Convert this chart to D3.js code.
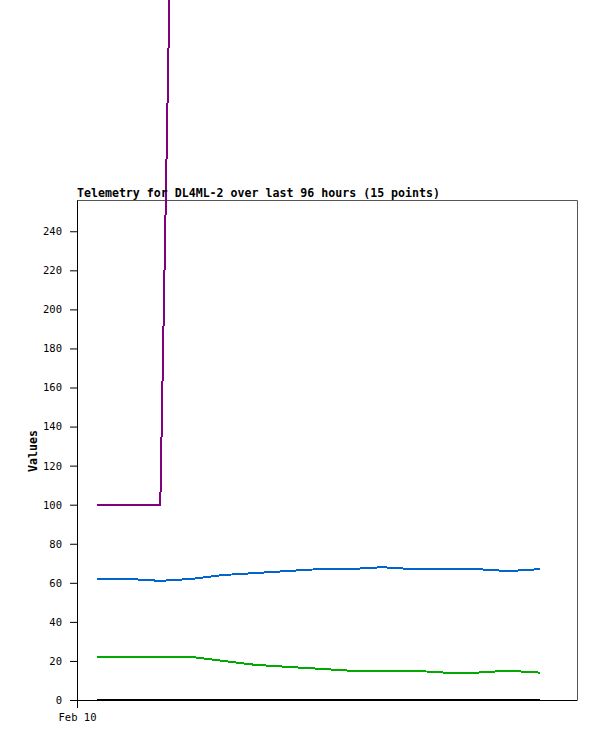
<!DOCTYPE html>
<html>
<head>
<meta charset="utf-8">
<script src="https://cdn.jsdelivr.net/npm/d3@7"></script>
<style>
  html, body { margin: 0; padding: 0; background: #fff; }
  svg { display: block; }
</style>
</head>
<body>
<div id="chart"></div>
<script>
// ---- data ----
const title = "Telemetry for DL4ML-2 over last 96 hours (15 points)";
const yLabel = "Values";
const times = [
  "2024-02-10T04:20Z", "2024-02-10T11:11Z", "2024-02-10T18:03Z",
  "2024-02-11T00:54Z", "2024-02-11T07:45Z", "2024-02-11T14:37Z",
  "2024-02-11T21:28Z", "2024-02-12T04:20Z", "2024-02-12T11:11Z",
  "2024-02-12T18:03Z", "2024-02-13T00:54Z", "2024-02-13T07:45Z",
  "2024-02-13T14:37Z", "2024-02-13T21:28Z", "2024-02-14T04:20Z"
];
const purpleValues = [100, 100, 100, 1000, 1000, 1000, 1000, 1000, 1000, 1000, 1000, 1000, 1000, 1000, 1000];
const blueValues   = [62, 62, 61, 62, 64, 65, 66, 67, 67, 68, 67, 67, 67, 66, 67];
const greenValues  = [22, 22, 22, 22, 20, 18, 17, 16, 15, 15, 15, 14, 14, 15, 14];
const blackValues  = [0, 0, 0, 0, 0, 0, 0, 0, 0, 0, 0, 0, 0, 0, 0];
const yTicks = [0, 20, 40, 60, 80, 100, 120, 140, 160, 180, 200, 220, 240];
const xDomain = ["2024-02-10T00:00Z", "2024-02-14T12:21Z"];
const xTicks = ["2024-02-10T00:00Z"];
const yMax = 256;

const series = [
  { name: "purple", color: "#800080", values: purpleValues },
  { name: "blue",   color: "#0066cc", values: blueValues },
  { name: "green",  color: "#00aa00", values: greenValues },
  { name: "black",  color: "#000000", values: blackValues }
];

// ---- layout ----
const W = 597, H = 741;
const m = { left: 77, top: 200, right: 20, bottom: 41 };
const pw = W - m.left - m.right;   // 500
const ph = H - m.top - m.bottom;   // 500

const svg = d3.select("#chart").append("svg")
  .attr("width", W).attr("height", H);

const parse = s => new Date(s);
const x = d3.scaleUtc().domain(xDomain.map(parse)).range([m.left, m.left + pw]);
const y = d3.scaleLinear().domain([0, yMax]).range([m.top + ph, m.top]);

const monoFont = "'DejaVu Sans Mono', monospace";

// frame (top and right)
svg.append("path")
  .attr("d", `M${m.left},${m.top + 0.5}H${m.left + pw + 0.5}V${m.top + ph}`)
  .attr("fill", "none").attr("stroke", "#555").attr("stroke-width", 1);

// lines
const line = d3.line()
  .x((d, i) => x(parse(times[i])))
  .y(d => y(d));

series.forEach(s => {
  svg.append("path")
    .datum(s.values)
    .attr("d", line)
    .attr("fill", "none")
    .attr("stroke", s.color)
    .attr("stroke-width", 2)
    .attr("shape-rendering", "crispEdges");
});

// y axis
const yAxis = svg.append("g")
  .attr("transform", `translate(${m.left},0)`)
  .call(d3.axisLeft(y).tickValues(yTicks).tickSize(7).tickSizeOuter(0).tickPadding(8));
yAxis.selectAll("text").attr("font-family", monoFont).attr("font-size", "10.5px").attr("fill", "#000");
yAxis.selectAll("line, path").attr("stroke", "#000");

// x axis
const xAxis = svg.append("g")
  .attr("transform", `translate(0,${m.top + ph})`)
  .call(d3.axisBottom(x).tickValues(xTicks.map(parse)).tickSize(8).tickSizeOuter(0).tickPadding(6)
    .tickFormat(d3.utcFormat("%b %d")));
xAxis.selectAll("text").attr("font-family", monoFont).attr("font-size", "10.5px").attr("fill", "#000");
xAxis.selectAll("line, path").attr("stroke", "#000");

// title
svg.append("text")
  .attr("x", m.left).attr("y", 197)
  .attr("font-family", monoFont).attr("font-weight", "bold").attr("font-size", "11.6px")
  .attr("fill", "#000")
  .text(title);

// y label
svg.append("text")
  .attr("transform", "translate(37,451) rotate(-90)")
  .attr("text-anchor", "middle")
  .attr("font-family", monoFont).attr("font-weight", "bold").attr("font-size", "11.6px")
  .attr("fill", "#000")
  .text(yLabel);
</script>
</body>
</html>
